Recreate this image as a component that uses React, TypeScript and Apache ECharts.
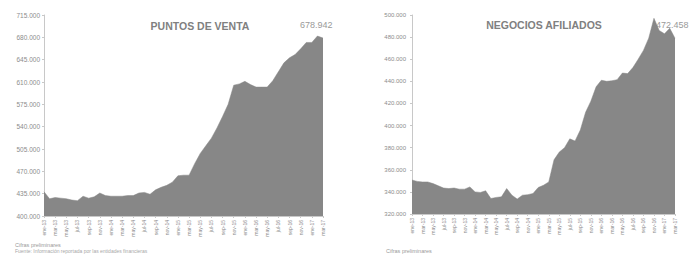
import React, { useEffect, useRef } from "react";
import * as echarts from "echarts";

const categories: string[] = [
  "ene-13", "feb-13", "mar-13", "abr-13", "may-13", "jun-13", "jul-13", "ago-13", "sep-13", "oct-13", "nov-13", "dic-13",
  "ene-14", "feb-14", "mar-14", "abr-14", "may-14", "jun-14", "jul-14", "ago-14", "sep-14", "oct-14", "nov-14", "dic-14",
  "ene-15", "feb-15", "mar-15", "abr-15", "may-15", "jun-15", "jul-15", "ago-15", "sep-15", "oct-15", "nov-15", "dic-15",
  "ene-16", "feb-16", "mar-16", "abr-16", "may-16", "jun-16", "jul-16", "ago-16", "sep-16", "oct-16", "nov-16", "dic-16",
  "ene-17", "feb-17", "mar-17",
];

const puntosDeVenta: number[] = [
  438000, 427000, 429000, 428000, 427000, 425000, 424000, 431000, 428000, 430000,
  436000, 432000, 431000, 431000, 431000, 432000, 432000, 436000, 437000, 434000,
  441000, 445000, 448000, 453000, 463000, 464000, 464000, 482000, 498000, 510000,
  522000, 538000, 556000, 575000, 605000, 607000, 611000, 606000, 602000, 602000,
  602000, 612000, 626000, 640000, 648000, 653000, 662000, 672000, 672000, 682000,
  678942,
];

const negociosAfiliados: number[] = [
  350700, 349500, 349000, 349000, 347500, 345500, 343500, 343000, 343500, 342500,
  342500, 344500, 340000, 339500, 341000, 334000, 335000, 335500, 343000, 337000,
  333500, 337000, 337500, 338500, 344000, 346000, 349000, 369000, 376000, 380000,
  388000, 386000, 396000, 412000, 422000, 435000, 441000, 440000, 440500, 441500,
  447500, 447000, 452500, 460000, 468000, 479000, 497000, 486000, 483000, 488000,
  479000,
];

const titleLeft = "PUNTOS DE VENTA";
const titleRight = "NEGOCIOS AFILIADOS";
const lastLeftLabel = "678.942";
const lastRightLabel = "472.458";
const leftAxis = { min: 400000, max: 715000, interval: 35000 };
const rightAxis = { min: 320000, max: 500000, interval: 20000 };
const footLeft1 = "Cifras preliminares";
const footLeft2 = "Fuente: Información reportada por las entidades financieras";
const footRight = "Cifras preliminares";

const fmt = (v: number) =>
  String(Math.round(v)).replace(/\B(?=(\d{3})+(?!\d))/g, ".");

const AREA = "#878787";
const AXIS = "#c8c8c8";
const LABEL = "#8c8c8c";
const FONT = "Liberation Sans, Arial, sans-serif";

export default function App() {
  const ref = useRef<HTMLDivElement>(null);

  useEffect(() => {
    if (!ref.current) return;
    const chart = echarts.init(ref.current, undefined, { renderer: "svg" });
    const leftBase = leftAxis.min;

    const xAxisBase = (gridIndex: number) => ({
      type: "category" as const,
      gridIndex,
      data: categories,
      boundaryGap: false,
      axisLine: { lineStyle: { color: AXIS, width: 1 } },
      axisTick: { show: true, interval: 1, length: 2, lineStyle: { color: AXIS } },
      axisLabel: {
        interval: 1,
        rotate: 90,
        fontSize: 5,
        color: LABEL,
        fontFamily: FONT,
        margin: 4,
      },
      splitLine: { show: false },
    });

    const yAxisBase = (gridIndex: number) => ({
      type: "value" as const,
      gridIndex,
      axisLine: { show: true, lineStyle: { color: AXIS, width: 1 } },
      axisTick: { show: true, length: 2, lineStyle: { color: AXIS } },
      splitLine: { show: false },
    });

    chart.setOption({
      animation: false,
      backgroundColor: "#ffffff",
      grid: [
        { left: 44, top: 15, width: 279, height: 201 },
        { left: 412, top: 15, width: 263, height: 199 },
      ],
      xAxis: [xAxisBase(0), xAxisBase(1)],
      yAxis: [
        {
          ...yAxisBase(0),
          min: 0,
          max: leftAxis.max - leftBase,
          interval: leftAxis.interval,
          axisLabel: {
            fontSize: 6.5,
            color: LABEL,
            fontFamily: FONT,
            margin: 4,
            formatter: (v: number) => fmt(v + leftBase),
          },
        },
        {
          ...yAxisBase(1),
          min: rightAxis.min,
          max: rightAxis.max,
          interval: rightAxis.interval,
          axisLabel: {
            fontSize: 6,
            color: LABEL,
            fontFamily: FONT,
            margin: 6,
            formatter: (v: number) => fmt(v),
          },
        },
      ],
      series: [
        {
          type: "line",
          xAxisIndex: 0,
          yAxisIndex: 0,
          data: puntosDeVenta.map((v) => v - leftBase),
          symbol: "none",
          lineStyle: { width: 0.5, color: AREA },
          areaStyle: { color: AREA, opacity: 1 },
        },
        {
          type: "line",
          xAxisIndex: 1,
          yAxisIndex: 1,
          data: negociosAfiliados,
          symbol: "none",
          lineStyle: { width: 0.5, color: AREA },
          areaStyle: { color: AREA, opacity: 1, origin: "start" },
        },
      ],
      graphic: [
        {
          type: "text",
          x: 200,
          y: 26,
          style: {
            text: titleLeft,
            fill: "#808080",
            font: `bold 10.5px ${FONT}`,
            align: "center",
            verticalAlign: "middle",
          },
        },
        {
          type: "text",
          x: 300,
          y: 25,
          style: {
            text: lastLeftLabel,
            fill: "#9a9a9a",
            font: `9px ${FONT}`,
            align: "left",
            verticalAlign: "middle",
          },
        },
        {
          type: "text",
          x: 544,
          y: 25,
          style: {
            text: titleRight,
            fill: "#808080",
            font: `bold 10.5px ${FONT}`,
            align: "center",
            verticalAlign: "middle",
          },
        },
        {
          type: "text",
          x: 656,
          y: 25,
          style: {
            text: lastRightLabel,
            fill: "#9a9a9a",
            font: `9px ${FONT}`,
            align: "left",
            verticalAlign: "middle",
          },
        },
        {
          type: "text",
          x: 15,
          y: 244.5,
          style: {
            text: footLeft1,
            fill: "#9a9a9a",
            font: `5.5px ${FONT}`,
            align: "left",
            verticalAlign: "middle",
          },
        },
        {
          type: "text",
          x: 15,
          y: 251,
          style: {
            text: footLeft2,
            fill: "#a8a8a8",
            font: `5px ${FONT}`,
            align: "left",
            verticalAlign: "middle",
          },
        },
        {
          type: "text",
          x: 386,
          y: 251,
          style: {
            text: footRight,
            fill: "#9a9a9a",
            font: `5.5px ${FONT}`,
            align: "left",
            verticalAlign: "middle",
          },
        },
      ],
    });

    return () => chart.dispose();
  }, []);

  return (
    <div
      ref={ref}
      style={{ position: "fixed", left: 0, top: 0, width: 690, height: 255, background: "#fff" }}
    />
  );
}
